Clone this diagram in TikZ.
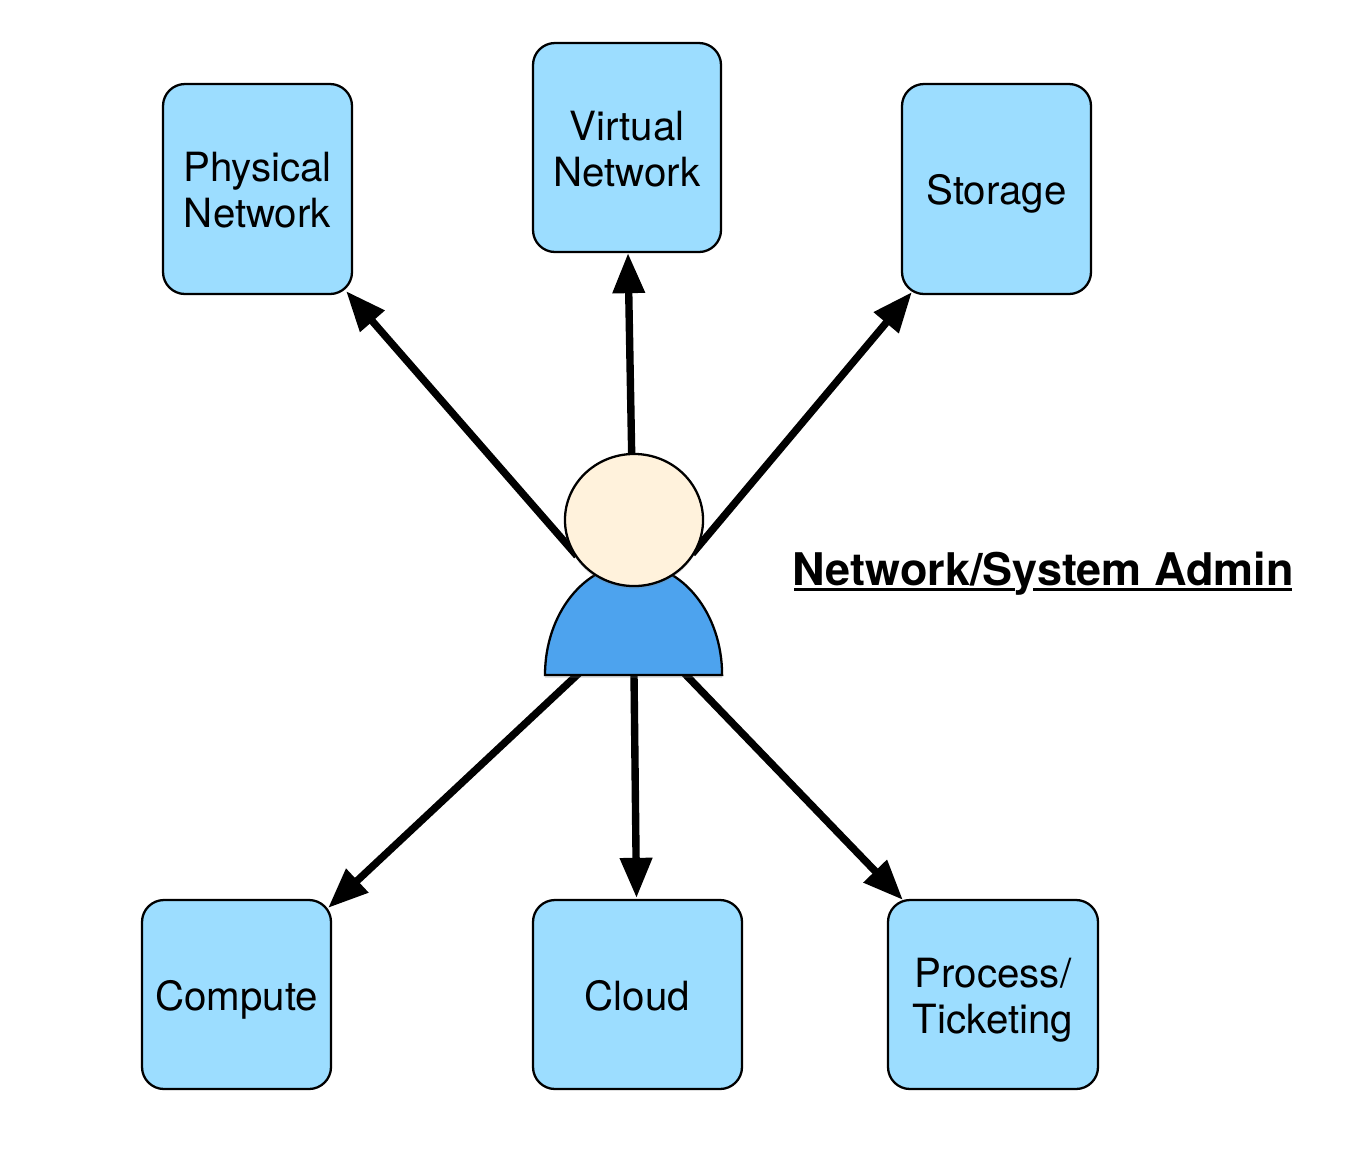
\documentclass[tikz,border=0pt]{standalone}
\usepackage{fontspec}
\setmainfont{TeX Gyre Heros}
\usetikzlibrary{arrows.meta,shapes.geometric,shadows,backgrounds}
\definecolor{boxblue}{RGB}{156,221,255}
\definecolor{headcream}{RGB}{255,242,220}
\definecolor{bodyblue}{RGB}{77,163,238}
\tikzset{
  areabox/.style={draw=black, line width=0.65pt, fill=boxblue, rounded corners=0.22cm, align=center, inner sep=0pt, font=\fontsize{11.45}{13.1}\selectfont},
  softshadow/.style={drop shadow={shadow xshift=0pt, shadow yshift=-0.8pt, opacity=0.22}},
  link/.style={line width=2.1pt, shorten <=-0.1cm, -{Triangle[length=0.40cm,width=0.31cm]}}
}

\begin{document}
\begin{tikzpicture}[x=0.01cm,y=-0.01cm]
\useasboundingbox (0,0) rectangle (1352,1154);
\foreach \n/\x/\y/\w/\h/\l in {physical/257.5/189/189/210/{Physical\\Network},virtual/627/147.5/188/209/{Virtual\\Network},storage/996.5/189/189/210/{Storage},compute/236.5/994.5/189/189/{Compute},cloud/637.5/994.5/209/189/{Cloud},process/993/994.5/210/189/{Process/\\Ticketing}} {
  \node[areabox, minimum width=\w*0.01cm, minimum height=\h*0.01cm] (\n) at (\x,\y) {\rule{0pt}{12pt}\l\rule[-3pt]{0pt}{3pt}};
}
% person
\draw[line width=0.65pt, fill=bodyblue, softshadow] (545,675) arc[start angle=180, end angle=0, x radius=0.885cm, y radius=1.11cm] -- cycle;
\coordinate (bodyl) at (577,675);
\coordinate (bodym) at (634,675);
\coordinate (bodyr) at (686,675);
\node[ellipse, draw=black, line width=0.65pt, fill=headcream, minimum width=1.38cm, minimum height=1.32cm, inner sep=0pt, softshadow] (head) at (634,520) {};
\node[font=\fontsize{12.79}{15}\selectfont\bfseries] (title) at (1043,574) {Network/System Admin};
\draw[line width=0.85pt] (794,589) -- (1015,589) (1033,589) -- (1292,589);
\begin{scope}[on background layer]
\foreach \s/\e/\dx/\dy in {head.204/physical.south east/-7/-4,head.92/virtual.south/1/0,head.338/storage.south west/11/-3,bodyl/compute.north east/-4/9,bodym/cloud.north/-1/-1,bodyr/process.north west/16/1} {
  \draw[link] (\s) -- ([shift={(\dx,\dy)}]\e);
}
\end{scope}
\end{tikzpicture}
\end{document}
